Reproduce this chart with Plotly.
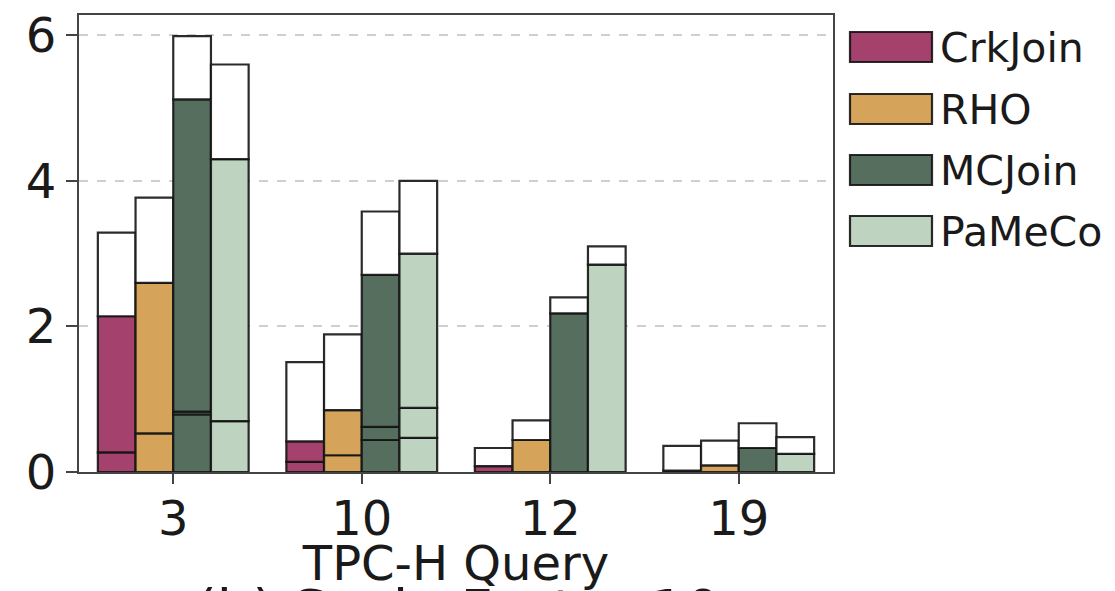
import plotly.graph_objects as go

# ---------------- data ----------------
queries = ["3", "10", "12", "19"]
methods = ["CrkJoin", "RHO", "MCJoin", "PaMeCo"]

# cumulative boundaries inside each bar (seconds)
phase1_top = {
    "CrkJoin": [0.27, 0.14, 0.00, 0.00],
    "RHO":     [0.53, 0.23, 0.00, 0.00],
    "MCJoin":  [0.79, 0.44, 0.00, 0.00],
    "PaMeCo":  [0.70, 0.47, 0.00, 0.00],
}
phase2_top = {
    "CrkJoin": [0.27, 0.14, 0.00, 0.00],
    "RHO":     [0.53, 0.23, 0.00, 0.00],
    "MCJoin":  [0.83, 0.62, 0.00, 0.00],
    "PaMeCo":  [0.70, 0.88, 0.00, 0.00],
}
colored_top = {
    "CrkJoin": [2.14, 0.42, 0.08, 0.02],
    "RHO":     [2.60, 0.85, 0.44, 0.09],
    "MCJoin":  [5.12, 2.71, 2.18, 0.33],
    "PaMeCo":  [4.30, 3.00, 2.85, 0.25],
}
total = {
    "CrkJoin": [3.29, 1.51, 0.33, 0.36],
    "RHO":     [3.77, 1.89, 0.71, 0.43],
    "MCJoin":  [5.99, 3.58, 2.40, 0.67],
    "PaMeCo":  [5.60, 4.00, 3.10, 0.48],
}
y_ticks = [0, 2, 4, 6]
x_title = "TPC-H Query"
sub_caption = "(b) Scale Factor 10"

# ---------------- style ----------------
colors = {"CrkJoin": "#A4416C", "RHO": "#D5A45A", "MCJoin": "#566E5E", "PaMeCo": "#BED3C0"}
edge = "rgba(20,20,20,0.9)"
bar_w = 0.2
offsets = [-0.4, -0.2, 0.0, 0.2]

W, H = 1115, 591
L, R, T, B = 79, 833, 15, 472   # plot area in pixels


def px_x(p):
    return (p - L) / (R - L)


def px_y(p):
    return (B - p) / (B - T)


fig = go.Figure()

for j, m in enumerate(methods):
    layers = [
        ([0.0] * 4, phase1_top[m], colors[m]),
        (phase1_top[m], phase2_top[m], colors[m]),
        (phase2_top[m], colored_top[m], colors[m]),
        (colored_top[m], total[m], "white"),
    ]
    for lo, hi, fill in layers:
        bases, heights = [], []
        for a, b in zip(lo, hi):
            if b - a > 1e-9:
                bases.append(a)
                heights.append(b - a)
            else:
                bases.append(None)
                heights.append(None)
        fig.add_trace(go.Bar(
            x=queries, y=heights, base=bases,
            width=bar_w, offset=offsets[j],
            marker=dict(color=fill, line=dict(color=edge, width=2.2)),
            name=m, showlegend=False, hoverinfo="skip",
        ))

# ---------------- manual legend ----------------
legend_rows = [47, 109, 170, 231]
shapes, annots = [], []
for m, cy in zip(methods, legend_rows):
    shapes.append(dict(
        type="rect", xref="paper", yref="paper",
        x0=px_x(850), x1=px_x(932), y0=px_y(cy + 15), y1=px_y(cy - 15),
        fillcolor=colors[m], line=dict(color=edge, width=2.2),
    ))
    annots.append(dict(
        text=m, xref="paper", yref="paper", x=px_x(938), y=px_y(cy + 1),
        xanchor="left", yanchor="middle", showarrow=False,
        font=dict(size=41, family="DejaVu Sans", color="#1a1a1a"),
    ))

annots.append(dict(
    text=sub_caption, xref="paper", yref="paper", x=px_x(458), y=px_y(575),
    xanchor="center", yanchor="top", showarrow=False,
    font=dict(size=56, family="DejaVu Sans", color="#1a1a1a"),
))

fig.update_layout(
    width=W, height=H,
    margin=dict(l=L, r=W - R, t=T, b=H - B, pad=0),
    plot_bgcolor="white", paper_bgcolor="white",
    barmode="overlay", showlegend=False,
    font=dict(family="DejaVu Sans", color="#1a1a1a"),
    shapes=shapes, annotations=annots,
)
fig.update_xaxes(
    type="category", range=[-0.5, 3.5],
    showline=True, mirror=True, linecolor="#444", linewidth=2,
    ticks="outside", ticklen=10, tickwidth=2, tickcolor="#444",
    tickfont=dict(size=48), ticklabelstandoff=-7,
    showgrid=False, automargin=False,
    title=dict(text=x_title, font=dict(size=48), standoff=0),
)
fig.update_yaxes(
    range=[0, 6.28], tickvals=y_ticks,
    showline=True, mirror=True, linecolor="#444", linewidth=2,
    ticks="outside", ticklen=11, tickwidth=2, tickcolor="#444",
    tickfont=dict(size=48), zeroline=False, automargin=False,
    showgrid=True, gridcolor="#cfcfcf", gridwidth=1.5, griddash="dash",
)

fig.write_html("out.html")
